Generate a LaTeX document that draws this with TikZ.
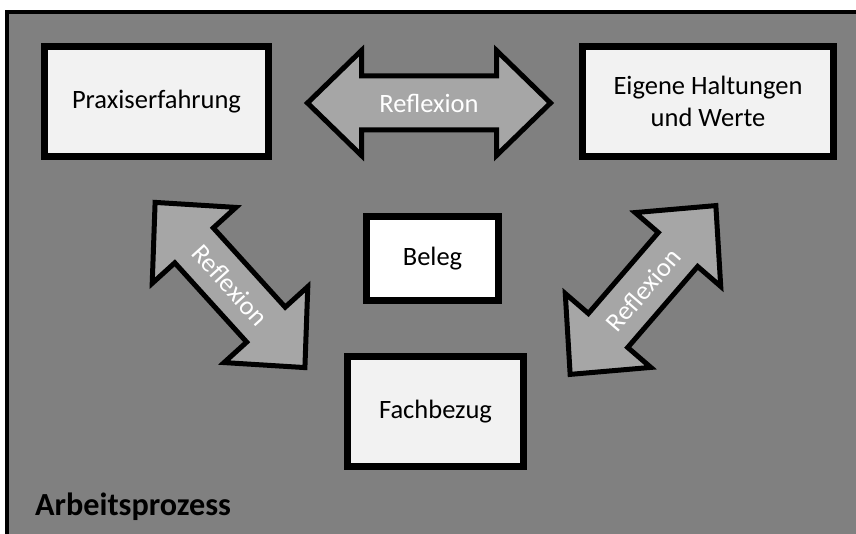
\documentclass[tikz,border=0pt]{standalone}
\usepackage{fontspec}
\setmainfont{Carlito}
\definecolor{bggray}{HTML}{808080}
\definecolor{boxgray}{HTML}{F2F2F2}
\definecolor{arrowgray}{HTML}{A6A6A6}
\tikzset{
  box/.style={draw=black, line width=7pt, fill=boxgray, inner sep=0pt,
    font=\fontsize{26.5}{32}\selectfont, text=black},
  arrowshape/.style={draw=black, line width=5pt, fill=arrowgray, line join=miter},
  reflabel/.style={text=white, font=\fontsize{26.5}{32}\selectfont, inner sep=0pt},
  titlelabel/.style={font=\fontsize{32.2}{36}\selectfont\bfseries, inner sep=0pt, anchor=base west}
}
\newcommand\blockarrow[8]{%
  \begin{scope}[shift={(#1,#2)},rotate=#3]
    \path[arrowshape] ({-#4/2},0) -- ({-#4/2+#5},{#6}) -- ({-#4/2+#5},{#7})
      -- ({#4/2-#5},{#7}) -- ({#4/2-#5},{#6}) -- ({#4/2},0)
      -- ({#4/2-#5},{-#6}) -- ({#4/2-#5},{-#7}) -- ({-#4/2+#5},{-#7})
      -- ({-#4/2+#5},{-#6}) -- cycle;
  \end{scope}
  \node[reflabel, rotate=#3] (#8) at (#1,#2) {Reflexion};%
}
\begin{document}
\begin{tikzpicture}[x=1pt,y=1pt]
  \useasboundingbox (0,0) rectangle (856,534);
  \clip (0,0) rectangle (856,534);
  \fill[white] (0,0) rectangle (856,534);
  \draw[line width=4pt, fill=bggray] (7,-20) rectangle (880,522);

  \node[box, minimum width=224pt, minimum height=110pt] (praxis) at (156.5,432.5) {Praxiserfahrung};
  \node[box, minimum width=251pt, minimum height=110pt, align=center] (werte) at (708,432.5) {Eigene Haltungen\\und Werte};
  \node[box, fill=white, minimum width=132pt, minimum height=84pt] (beleg) at (432.5,275.5) {Beleg};
  \node[box, minimum width=176pt, minimum height=110pt] (fach) at (435.5,122.5) {Fachbezug};

  \blockarrow{429}{431}{0}{243}{54}{52.5}{27}{refh}
  \blockarrow{230}{249}{-47.8}{223}{58}{56.5}{26}{refl}
  \blockarrow{643}{244}{49.2}{223}{58}{56.5}{26}{refr}

  \node[titlelabel] (title) at (35,18) {Arbeitsprozess};
\end{tikzpicture}
\end{document}
